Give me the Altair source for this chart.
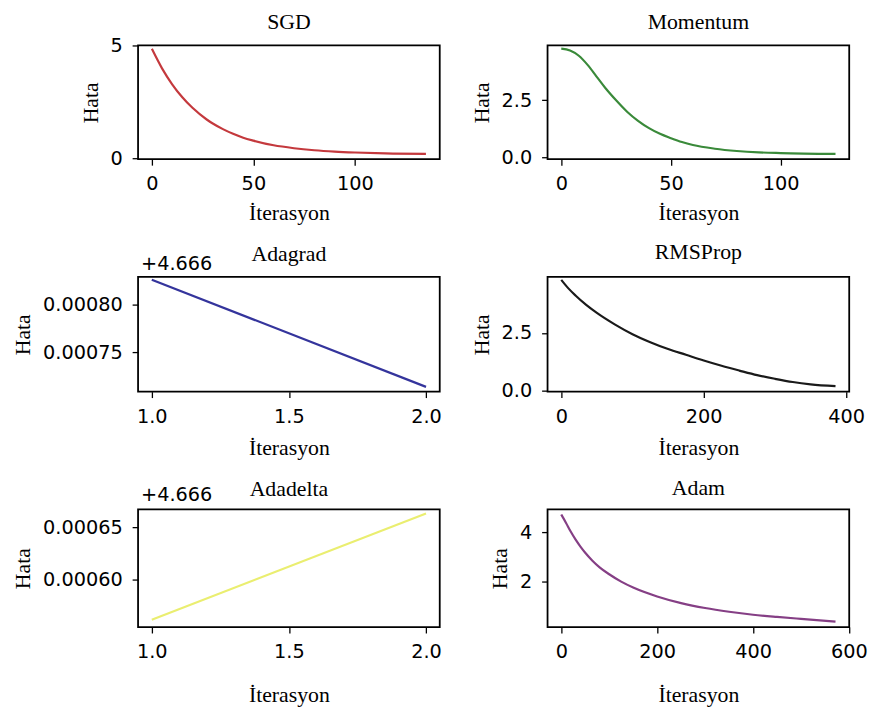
import altair as alt
import pandas as pd

# ---- data ----
sgd_x = [0, 5, 10, 15, 20, 27, 30, 35, 40, 45, 50, 60, 70, 80, 90, 100, 115, 135]
sgd_y = [4.87, 4.00, 3.29, 2.71, 2.24, 1.72, 1.54, 1.29, 1.08, 0.91, 0.78, 0.57, 0.44, 0.35, 0.29, 0.25, 0.21, 0.19]

mom_x = [0, 4, 8, 12, 16, 20, 25, 30, 35, 40, 45, 50, 55, 60, 70, 80, 90, 100, 125]
mom_y = [4.76, 4.68, 4.45, 4.05, 3.55, 3.05, 2.50, 2.00, 1.60, 1.28, 1.03, 0.84, 0.67, 0.54, 0.38, 0.28, 0.22, 0.19, 0.15]

adagrad_x = [1.0, 2.0]
adagrad_y = [0.000826, 0.000714]   # shown with offset +4.666

rms_x = [0, 10, 20, 35, 50, 75, 100, 125, 150, 175, 200, 225, 250, 275, 300, 325, 350, 385]
rms_y = [4.82, 4.45, 4.14, 3.73, 3.38, 2.88, 2.45, 2.10, 1.80, 1.55, 1.30, 1.07, 0.86, 0.66, 0.50, 0.36, 0.26, 0.18]

adadelta_x = [1.0, 2.0]
adadelta_y = [0.000562, 0.000663]  # shown with offset +4.666

adam_x = [0, 10, 20, 30, 40, 50, 65, 80, 100, 125, 150, 200, 250, 300, 350, 400, 450, 500, 572]
adam_y = [4.72, 4.38, 4.02, 3.70, 3.42, 3.17, 2.85, 2.58, 2.30, 2.00, 1.76, 1.40, 1.13, 0.93, 0.78, 0.66, 0.57, 0.49, 0.38]

offset_label = "+4.666"

TITLE_FONT = "Liberation Serif"
LABEL_FONT = "DejaVu Sans"
W = 305


def panel(name, xs, ys, color, xdom, ydom, xticks, yticks, xfmt, yfmt,
          height, title_off, xtitle_pad, offset_text=None, offset_y=-7):
    df = pd.DataFrame({"x": xs, "y": ys})
    line = alt.Chart(df).mark_line(
        color=color, strokeWidth=2.2, interpolate="monotone", clip=True
    ).encode(
        x=alt.X("x:Q",
                scale=alt.Scale(domain=xdom, nice=False, zero=False),
                axis=alt.Axis(values=xticks, format=xfmt, title="İterasyon",
                              titlePadding=xtitle_pad, labelFlush=False)),
        y=alt.Y("y:Q",
                scale=alt.Scale(domain=ydom, nice=False, zero=False),
                axis=alt.Axis(values=yticks, format=yfmt, title="Hata",
                              titlePadding=8)),
    )
    title = alt.Chart(pd.DataFrame({"t": [name]})).mark_text(
        align="center", baseline="alphabetic", font=TITLE_FONT,
        fontSize=22, color="black"
    ).encode(x=alt.value(W / 2), y=alt.value(-title_off), text="t:N")
    layers = [line, title]
    if offset_text:
        t = alt.Chart(pd.DataFrame({"t": [offset_text]})).mark_text(
            align="left", baseline="alphabetic", font=LABEL_FONT,
            fontSize=19.5, color="black"
        ).encode(x=alt.value(3), y=alt.value(offset_y), text="t:N")
        layers.append(t)
    return alt.layer(*layers).properties(width=W, height=height)


p1 = panel("SGD", sgd_x, sgd_y, "#c4393d", [-6.8, 141.8], [-0.05, 5.02],
           [0, 50, 100], [0, 5], "d", "d", 115, 17, 9)
p2 = panel("Momentum", mom_x, mom_y, "#3a8a3a", [-6.25, 131.25], [-0.08, 4.9],
           [0, 50, 100], [0, 2.5], "d", ".1f", 115, 17, 9)
p3 = panel("Adagrad", adagrad_x, adagrad_y, "#34349c", [0.95, 2.05],
           [0.000709, 0.000829], [1.0, 1.5, 2.0], [0.00075, 0.0008],
           ".1f", ".5f", 116, 16, 12, offset_label, -7)
p4 = panel("RMSProp", rms_x, rms_y, "#1a1a1a", [-19.25, 404.25], [-0.06, 4.95],
           [0, 200, 400], [0, 2.5], "d", ".1f", 116, 18, 12)
p5 = panel("Adadelta", adadelta_x, adadelta_y, "#eaee70", [0.95, 2.05],
           [0.000555, 0.000667], [1.0, 1.5, 2.0], [0.0006, 0.00065],
           ".1f", ".5f", 119, 13, 24, offset_label, -8)
p6 = panel("Adam", adam_x, adam_y, "#853f85", [-28.6, 600.6], [0.16, 4.93],
           [0, 200, 400, 600], [2, 4], "d", "d", 119, 14, 24)

chart = alt.concat(
    p1, p2, p3, p4, p5, p6,
    columns=2,
    spacing={"row": 119, "column": 109},
    bounds="flush",
).properties(
    padding={"left": 2.5, "top": -2, "right": 0, "bottom": 0},
    background="white",
).configure_axis(
    labelFont=LABEL_FONT, labelFontSize=19.5, labelColor="black",
    titleFont=TITLE_FONT, titleFontSize=22, titleFontWeight="normal",
    titleColor="black", tickColor="black", tickSize=6, tickWidth=1.3,
    labelPadding=10, domain=False, grid=False,
).configure_view(
    stroke="black", strokeWidth=1.8,
)

chart.save("out.html", embed_options={"renderer": "svg", "actions": False})
